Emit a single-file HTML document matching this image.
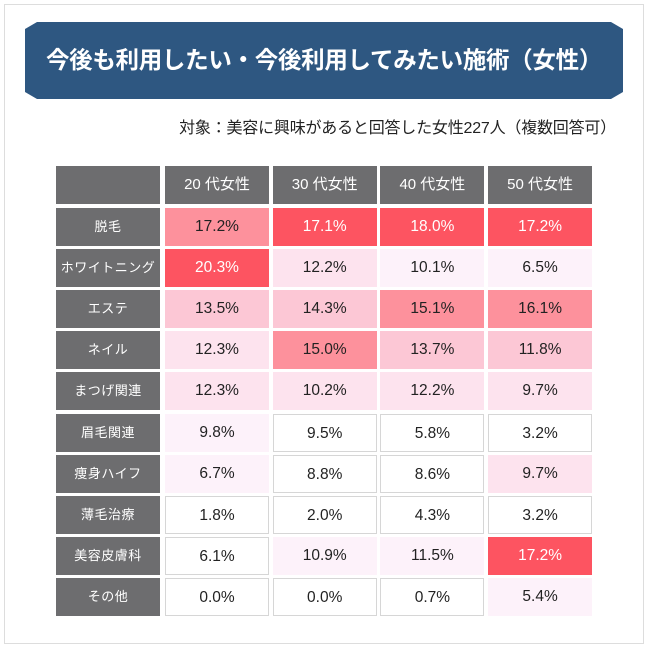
<!DOCTYPE html>
<html><head><meta charset="utf-8"><style>
body{margin:0;width:650px;height:650px;background:#fff;position:relative;overflow:hidden;font-family:"Liberation Sans","Noto Sans CJK JP",sans-serif}
.frame{position:absolute;left:4px;top:4px;width:640px;height:640px;border:1px solid #ddd;box-sizing:border-box}
.title{position:absolute;left:25px;top:22px;width:598px;height:77px;background:#2e5781;color:#fff;font-weight:bold;font-size:23.5px;line-height:77px;text-align:center;letter-spacing:-0.3px;clip-path:polygon(12px 0,586px 0,598px 7px,598px 70px,586px 77px,12px 77px,0 70px,0 7px)}
.sub{position:absolute;right:34px;top:114px;font-size:16px;color:#222;letter-spacing:-0.2px}
.c{position:absolute;box-sizing:border-box;text-align:center;font-size:15.5px;color:#222}
.lab{background:#6d6d6f;color:#fff;font-size:13px;letter-spacing:0.5px;white-space:nowrap}
.hd{background:#6d6d6f;color:#fff;font-size:15px}
</style></head><body>
<div class="frame"></div>
<div class="title">今後も利用したい・今後利用してみたい施術（女性）</div>
<div class="sub">対象：美容に興味があると回答した女性227人（複数回答可）</div>
<div id="tbl"></div>
<script>
const columns=["20 代女性","30 代女性","40 代女性","50 代女性"];
const rows=["脱毛","ホワイトニング","エステ","ネイル","まつげ関連","眉毛関連","痩身ハイフ","薄毛治療","美容皮膚科","その他"];
const col20=[17.2,20.3,13.5,12.3,12.3,9.8,6.7,1.8,6.1,0.0];
const col30=[17.1,12.2,14.3,15.0,10.2,9.5,8.8,2.0,10.9,0.0];
const col40=[18.0,10.1,15.1,13.7,12.2,5.8,8.6,4.3,11.5,0.7];
const col50=[17.2,6.5,16.1,11.8,9.7,3.2,9.7,3.2,17.2,5.4];
const levels20=[3,4,2,1,1,0,0,-1,-1,-1];
const levels30=[4,1,2,3,1,-1,-1,-1,0,-1];
const levels40=[4,0,3,2,1,-1,-1,-1,0,-1];
const levels50=[4,0,3,2,1,-1,1,-1,4,0];
const series=[col20,col30,col40,col50];
const lv=[levels20,levels30,levels40,levels50];
const fills={"-1":"#fff","0":"#fdf2fa","1":"#fde3ee","2":"#fcc7d5","3":"#fd919c","4":"#fd5461"};
const tbl=document.getElementById('tbl');
const colX=i=>165+i*107.7, rowY=j=>208+j*41.1;
function mk(cls,x,y,w,h,txt){const d=document.createElement('div');d.className='c '+cls;d.style.left=x+'px';d.style.top=y+'px';d.style.width=w+'px';d.style.height=h+'px';d.style.lineHeight=h+'px';d.textContent=txt;tbl.appendChild(d);return d;}
let e=mk('hd',56,166,104,38,'');


columns.forEach((c,i)=>{const d=mk('hd',colX(i),166,104,38,c);

});
rows.forEach((r,j)=>{const d=mk('lab',56,rowY(j),104,38,r);


series.forEach((s,i)=>{const l=lv[i][j];const v=mk('',colX(i),rowY(j),104,38,s[j].toFixed(1)+'%');
v.style.background=fills[l];
if(l<0)v.style.border='1px solid #d6d6d6';
if(l==4)v.style.color='#fff';

});});
</script>
</body></html>
